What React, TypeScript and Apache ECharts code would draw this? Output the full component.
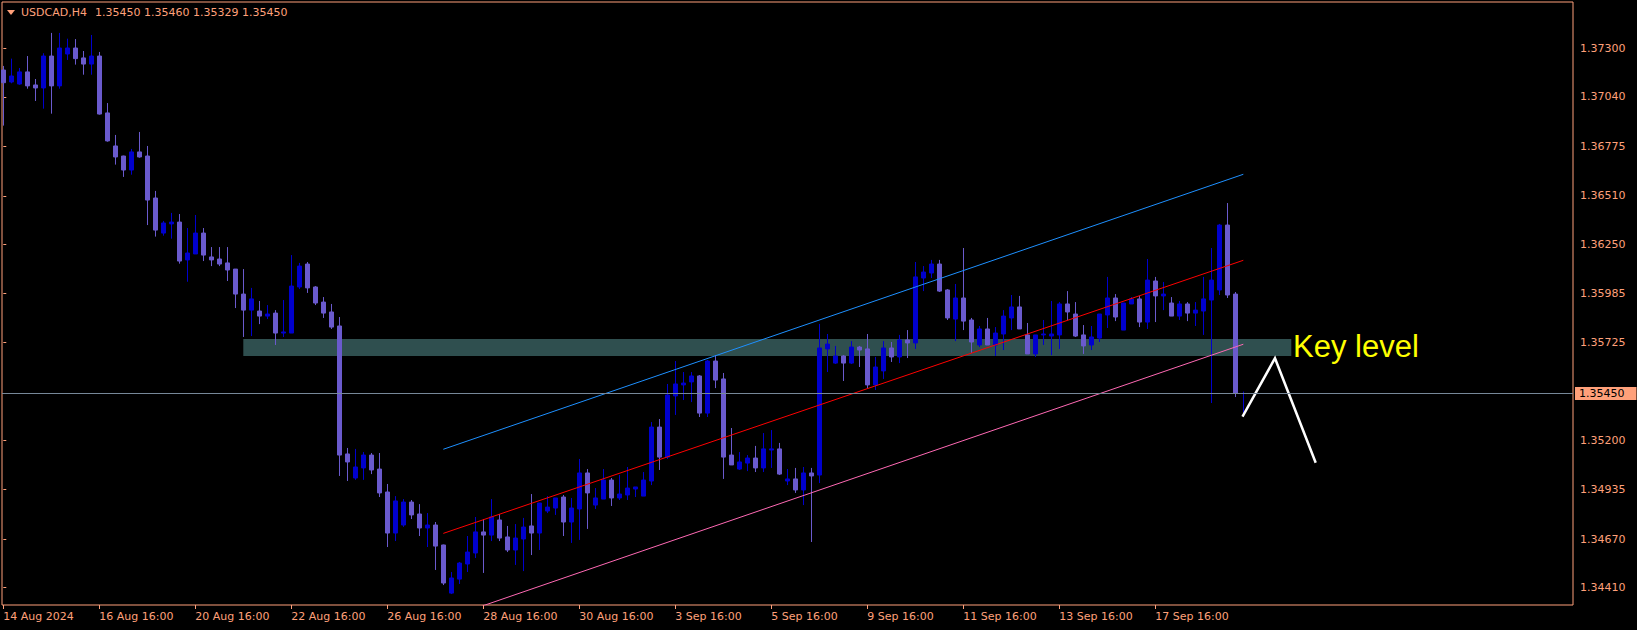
import React, { useEffect, useRef } from 'react';
import * as echarts from 'echarts';

// ---- Data (USDCAD H4, candle index 0 = 14 Aug 2024 16:00) ----
const opens = [
  1.37184, 1.37120, 1.37109, 1.37174, 1.37104, 1.37088, 1.37259, 1.37099, 1.37270, 1.37302,
  1.37249, 1.37216, 1.37259, 1.36954, 1.36777, 1.36723, 1.36648, 1.36745, 1.36723, 1.36498,
  1.36310, 1.36359, 1.36369, 1.36166, 1.36198, 1.36310, 1.36182, 1.36171, 1.36150, 1.36117,
  1.35983, 1.35897, 1.35892, 1.35865, 1.35881, 1.35774, 1.35774, 1.36021, 1.36144, 1.36021,
  1.35940, 1.35887, 1.35812, 1.35126, 1.34997, 1.35051, 1.35120, 1.35045, 1.34922, 1.34702,
  1.34745, 1.34868, 1.34804, 1.34729, 1.34745, 1.34638, 1.34380, 1.34455, 1.34536, 1.34595,
  1.34708, 1.34691, 1.34772, 1.34681, 1.34611, 1.34670, 1.34740, 1.34702, 1.34820, 1.34836,
  1.34895, 1.34761, 1.34831, 1.35024, 1.34852, 1.34884, 1.34986, 1.34890, 1.34906, 1.34938,
  1.34900, 1.34981, 1.35270, 1.35109, 1.35437, 1.35496, 1.35512, 1.35544, 1.35345, 1.35624,
  1.35528, 1.35120, 1.35045, 1.35077, 1.35104, 1.35051, 1.35147, 1.35153, 1.34981, 1.34992,
  1.34933, 1.35024, 1.35013, 1.35689, 1.35613, 1.35651, 1.35613, 1.35699, 1.35689, 1.35496,
  1.35571, 1.35694, 1.35646, 1.35737, 1.35721, 1.36069, 1.36096, 1.36144, 1.36005, 1.35849,
  1.35962, 1.35844, 1.35710, 1.35796, 1.35710, 1.35769, 1.35855, 1.35914, 1.35764, 1.35662,
  1.35764, 1.35758, 1.35764, 1.35930, 1.35876, 1.35764, 1.35710, 1.35747, 1.35871, 1.35962,
  1.35790, 1.35930, 1.35957, 1.35833, 1.36053, 1.35973, 1.35935, 1.35865, 1.35930, 1.35881,
  1.35892, 1.35951, 1.36005, 1.36353, 1.35983, 1.35450,
];
const highs = [
  1.37206, 1.37245, 1.37195, 1.37259, 1.37136, 1.37274, 1.37383, 1.37383, 1.37352, 1.37350,
  1.37286, 1.37372, 1.37281, 1.37007, 1.36836, 1.36725, 1.36761, 1.36852, 1.36777, 1.36536,
  1.36375, 1.36418, 1.36412, 1.36337, 1.36407, 1.36337, 1.36235, 1.36235, 1.36235, 1.36117,
  1.36117, 1.36016, 1.35946, 1.35924, 1.35897, 1.35951, 1.36192, 1.36150, 1.36155, 1.36026,
  1.35967, 1.35930, 1.35860, 1.35158, 1.35153, 1.35136, 1.35131, 1.35131, 1.34965, 1.34900,
  1.34884, 1.34879, 1.34857, 1.34809, 1.34761, 1.34640, 1.34493, 1.34547, 1.34686, 1.34788,
  1.34777, 1.34884, 1.34804, 1.34740, 1.34750, 1.34783, 1.34911, 1.34863, 1.34900, 1.34890,
  1.34906, 1.34890, 1.35099, 1.35045, 1.34943, 1.35045, 1.34997, 1.35013, 1.35056, 1.34949,
  1.35029, 1.35297, 1.35313, 1.35501, 1.35624, 1.35565, 1.35565, 1.35549, 1.35630, 1.35656,
  1.35560, 1.35265, 1.35136, 1.35120, 1.35169, 1.35238, 1.35254, 1.35185, 1.35045, 1.35051,
  1.35056, 1.35051, 1.35823, 1.35769, 1.35705, 1.35656, 1.35731, 1.35705, 1.35769, 1.35646,
  1.35731, 1.35726, 1.35764, 1.35790, 1.36155, 1.36133, 1.36166, 1.36166, 1.36010, 1.36037,
  1.36230, 1.35855, 1.35812, 1.35855, 1.35806, 1.35897, 1.35978, 1.35973, 1.35828, 1.35764,
  1.35844, 1.35946, 1.35940, 1.35999, 1.35940, 1.35817, 1.35812, 1.35876, 1.36075, 1.35983,
  1.35935, 1.35967, 1.35973, 1.36171, 1.36075, 1.36048, 1.35967, 1.35946, 1.35940, 1.35940,
  1.36075, 1.36230, 1.36359, 1.36471, 1.35994, 1.35460,
];
const lows = [
  1.36886, 1.37113, 1.37105, 1.37084, 1.37018, 1.36977, 1.36950, 1.37084, 1.37238, 1.37213,
  1.37159, 1.37159, 1.36945, 1.36800, 1.36677, 1.36611, 1.36623, 1.36714, 1.36353, 1.36291,
  1.36296, 1.36280, 1.36146, 1.36049, 1.36198, 1.36160, 1.36133, 1.36133, 1.36053, 1.35908,
  1.35753, 1.35758, 1.35822, 1.35849, 1.35710, 1.35753, 1.35774, 1.36010, 1.35989, 1.35924,
  1.35855, 1.35796, 1.35008, 1.34981, 1.34987, 1.34987, 1.35018, 1.34895, 1.34627, 1.34659,
  1.34735, 1.34777, 1.34686, 1.34627, 1.34504, 1.34423, 1.34375, 1.34429, 1.34493, 1.34568,
  1.34488, 1.34659, 1.34659, 1.34600, 1.34531, 1.34498, 1.34584, 1.34611, 1.34809, 1.34799,
  1.34686, 1.34649, 1.34665, 1.34724, 1.34831, 1.34884, 1.34847, 1.34879, 1.34879, 1.34895,
  1.34900, 1.34959, 1.35040, 1.35099, 1.35335, 1.35415, 1.35404, 1.35324, 1.35324, 1.35479,
  1.34992, 1.35067, 1.35040, 1.35034, 1.35029, 1.35029, 1.35051, 1.35013, 1.34959, 1.34917,
  1.34852, 1.34654, 1.34970, 1.35565, 1.35608, 1.35517, 1.35608, 1.35592, 1.35479, 1.35469,
  1.35528, 1.35619, 1.35613, 1.35640, 1.35689, 1.35999, 1.36069, 1.35994, 1.35844, 1.35731,
  1.35790, 1.35667, 1.35699, 1.35710, 1.35651, 1.35683, 1.35790, 1.35796, 1.35662, 1.35646,
  1.35710, 1.35656, 1.35689, 1.35844, 1.35753, 1.35662, 1.35683, 1.35726, 1.35801, 1.35838,
  1.35790, 1.35930, 1.35806, 1.35796, 1.35833, 1.35897, 1.35865, 1.35844, 1.35838, 1.35812,
  1.35764, 1.35399, 1.35978, 1.35962, 1.35431, 1.35329,
];
const closes = [
  1.37116, 1.37152, 1.37174, 1.37099, 1.37088, 1.37259, 1.37099, 1.37302, 1.37302, 1.37245,
  1.37216, 1.37259, 1.36948, 1.36804, 1.36718, 1.36648, 1.36745, 1.36718, 1.36487, 1.36326,
  1.36364, 1.36369, 1.36160, 1.36203, 1.36310, 1.36192, 1.36166, 1.36144, 1.36112, 1.35983,
  1.35897, 1.35957, 1.35865, 1.35876, 1.35774, 1.35780, 1.36026, 1.36133, 1.36016, 1.35935,
  1.35881, 1.35806, 1.35120, 1.35083, 1.35056, 1.35120, 1.35040, 1.34917, 1.34702, 1.34874,
  1.34868, 1.34799, 1.34729, 1.34745, 1.34632, 1.34434, 1.34461, 1.34541, 1.34600, 1.34708,
  1.34691, 1.34788, 1.34675, 1.34611, 1.34675, 1.34734, 1.34702, 1.34863, 1.34841, 1.34890,
  1.34761, 1.34836, 1.35024, 1.34917, 1.34890, 1.34986, 1.34890, 1.34911, 1.34943, 1.34949,
  1.34986, 1.35270, 1.35109, 1.35442, 1.35501, 1.35506, 1.35544, 1.35345, 1.35624, 1.35522,
  1.35109, 1.35067, 1.35083, 1.35104, 1.35051, 1.35153, 1.35153, 1.35018, 1.34992, 1.34933,
  1.35024, 1.35008, 1.35694, 1.35715, 1.35651, 1.35613, 1.35699, 1.35683, 1.35496, 1.35592,
  1.35694, 1.35646, 1.35737, 1.35721, 1.36075, 1.36101, 1.36144, 1.35999, 1.35855, 1.35962,
  1.35838, 1.35726, 1.35796, 1.35710, 1.35774, 1.35865, 1.35914, 1.35796, 1.35662, 1.35764,
  1.35769, 1.35769, 1.35930, 1.35887, 1.35758, 1.35705, 1.35753, 1.35876, 1.35962, 1.35860,
  1.35935, 1.35957, 1.35833, 1.36058, 1.35973, 1.35983, 1.35865, 1.35930, 1.35881, 1.35897,
  1.35957, 1.36058, 1.36353, 1.35978, 1.35450, 1.35450,
];

const xTickIndices = [0, 12, 24, 36, 48, 60, 72, 84, 96, 108, 120, 132, 144];
const xTickLabels = [
  '14 Aug 2024', '16 Aug 16:00', '20 Aug 16:00', '22 Aug 16:00', '26 Aug 16:00',
  '28 Aug 16:00', '30 Aug 16:00', '3 Sep 16:00', '5 Sep 16:00', '9 Sep 16:00',
  '11 Sep 16:00', '13 Sep 16:00', '17 Sep 16:00',
];
const yTickValues = [1.3441, 1.3467, 1.34935, 1.352, 1.35725, 1.35985, 1.3625, 1.3651, 1.36775, 1.3704, 1.373];

const symbolName = 'USDCAD,H4';
const headerOHLC = ['1.35450', '1.35460', '1.35329', '1.35450'];
const currentPrice = 1.3545;

// key level zone: [startIndex, endIndex], [lowPrice, highPrice]
const keyLevelX = [30, 161];
const keyLevelY = [1.35651, 1.35742];
const keyLevelText = 'Key level';

// regression channel lines: [index, price]
const channelUpper = [[55, 1.35151], [155, 1.36625]];
const channelMiddle = [[55, 1.347], [155, 1.36164]];
const channelLower = [[55, 1.34239], [155, 1.35714]];

// hand-drawn projection arrow: [index, price]
const arrowPath = [[154.9, 1.35326], [158.96, 1.35639], [164.05, 1.35079]];

export default function App() {
  const ref = useRef<HTMLDivElement>(null);
  useEffect(() => {
    document.body.style.margin = '0';
    document.body.style.background = '#000';
    const chart = echarts.init(ref.current as HTMLDivElement, null, { renderer: 'svg' });
    const FG = '#FFA07A';
    const FONT = '"DejaVu Sans", Verdana, sans-serif';
    const BULL = '#0000CD';
    const BEAR = '#6A5ACD';
    const candleData = opens.map((o, i) => [i, o, closes[i], lows[i], highs[i]]);

    chart.setOption({
      animation: false,
      backgroundColor: '#000',
      grid: {
        left: 2, top: 2, width: 1571, height: 603,
        show: true, borderColor: FG, borderWidth: 1, backgroundColor: '#000',
      },
      xAxis: {
        type: 'value',
        min: -0.1625,
        max: 196.2125,
        axisLine: { show: false },
        splitLine: { show: false },
        axisTick: { show: true, customValues: xTickIndices, length: 4, lineStyle: { color: FG, width: 1 } },
        axisLabel: {
          show: true,
          customValues: xTickIndices,
          formatter: (v: number) => {
            const k = xTickIndices.indexOf(Math.round(v));
            return k >= 0 ? xTickLabels[k] : '';
          },
          color: FG, fontFamily: FONT, fontSize: 11, align: 'left', margin: 6,
        },
      },
      yAxis: {
        type: 'value',
        position: 'right',
        min: 1.343162,
        max: 1.375487,
        axisLine: { show: false },
        splitLine: { show: false },
        axisTick: { show: true, customValues: yTickValues, length: 3, lineStyle: { color: FG, width: 1 } },
        axisLabel: {
          show: true,
          customValues: yTickValues,
          formatter: (v: number) => v.toFixed(5),
          color: FG, fontFamily: FONT, fontSize: 11, margin: 7,
        },
      },
      graphic: [
        {
          type: 'polygon',
          shape: { points: [[7, 10], [15, 10], [11, 15]] },
          style: { fill: FG },
        },
        {
          type: 'text',
          style: { text: symbolName, x: 21, y: 12.5, fill: FG, fontFamily: FONT, fontSize: 11, align: 'left', verticalAlign: 'middle' },
        },
        {
          type: 'text',
          style: { text: headerOHLC.join(' '), x: 95, y: 12.5, fill: FG, fontFamily: FONT, fontSize: 11, align: 'left', verticalAlign: 'middle' },
        },
        {
          type: 'text',
          z: 100,
          style: { text: keyLevelText, x: 1293, y: 346, fill: '#FFFF00', fontFamily: '"Liberation Sans", Arial, sans-serif', fontSize: 31, align: 'left', verticalAlign: 'middle' },
        },
      ],
      series: [
        {
          type: 'line',
          name: 'zone',
          z: 1,
          data: [],
          silent: true,
          markArea: {
            silent: true,
            itemStyle: { color: '#2F4F4F', opacity: 1 },
            data: [[{ xAxis: keyLevelX[0], yAxis: keyLevelY[1] }, { xAxis: keyLevelX[1], yAxis: keyLevelY[0] }]],
          },
        },
        {
          type: 'candlestick',
          name: 'USDCAD',
          z: 2,
          barWidth: 4,
          data: candleData,
          itemStyle: {
            color: BULL, color0: BEAR,
            borderColor: BULL, borderColor0: BEAR, borderColorDoji: BULL,
            borderWidth: 1,
          },
          markLine: {
            silent: true,
            symbol: ['none', 'none'],
            precision: 5,
            lineStyle: { color: '#778899', width: 1, type: 'solid' },
            label: {
              show: true,
              position: 'end',
              distance: 2,
              formatter: currentPrice.toFixed(5),
              backgroundColor: FG,
              color: '#000',
              fontFamily: FONT,
              fontSize: 11,
              padding: [1, 12, 1, 4],
            },
            data: [{ yAxis: currentPrice }],
          },
        },
        {
          type: 'line', z: 3, silent: true, showSymbol: false, symbol: 'none',
          data: channelUpper, lineStyle: { color: '#1E90FF', width: 1 },
        },
        {
          type: 'line', z: 3, silent: true, showSymbol: false, symbol: 'none',
          data: channelMiddle, lineStyle: { color: '#FF0000', width: 1 },
        },
        {
          type: 'line', z: 3, silent: true, showSymbol: false, symbol: 'none',
          data: channelLower, lineStyle: { color: '#FF69B4', width: 1 },
        },
        {
          type: 'line', z: 4, silent: true, showSymbol: false, symbol: 'none',
          data: arrowPath, lineStyle: { color: '#FFFFFF', width: 2.5, join: 'miter' },
        },
      ],
    });
    return () => chart.dispose();
  }, []);
  return <div ref={ref} style={{ width: 1637, height: 630, background: '#000' }} />;
}
